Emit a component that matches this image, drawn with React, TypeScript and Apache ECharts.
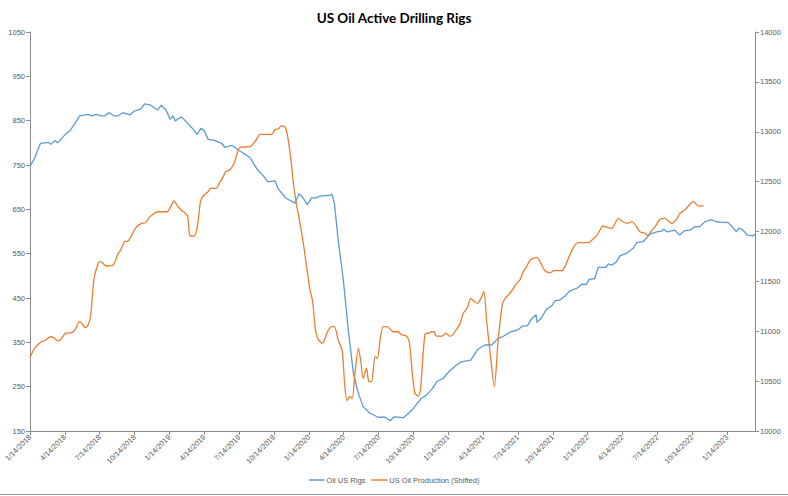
import React, { useEffect, useRef } from "react";
import * as echarts from "echarts";

const TITLE = "US Oil Active Drilling Rigs";
const SERIES_NAMES = ["Oil US Rigs", "US Oil Production (Shifted)"];

const rigDates = [
  "2018-01-14","2018-01-26","2018-02-11","2018-03-02","2018-03-08","2018-03-18","2018-03-26","2018-04-14","2018-04-27","2018-05-10",
  "2018-05-22","2018-06-14","2018-06-24","2018-07-05","2018-07-18","2018-07-28","2018-08-07","2018-08-21","2018-09-02","2018-09-14",
  "2018-10-01","2018-10-14","2018-10-30","2018-11-10","2018-11-26","2018-12-13","2018-12-23","2019-01-05","2019-01-16","2019-01-23",
  "2019-01-30","2019-02-05","2019-02-16","2019-03-01","2019-03-13","2019-03-26","2019-04-05","2019-04-14","2019-04-24","2019-05-12",
  "2019-05-29","2019-06-07","2019-06-26","2019-07-12","2019-08-12","2019-08-31","2019-09-16","2019-09-29","2019-10-17","2019-10-25",
  "2019-11-15","2019-12-08","2019-12-19","2019-12-30","2020-01-10","2020-01-21","2020-02-03","2020-02-13","2020-03-10","2020-03-13",
  "2020-03-20","2020-03-30","2020-04-13","2020-04-26","2020-05-09","2020-05-22","2020-06-04","2020-06-22","2020-07-13","2020-07-31",
  "2020-08-14","2020-08-24","2020-09-18","2020-10-10","2020-10-23","2020-11-05","2020-11-18","2020-12-01","2020-12-14","2020-12-31",
  "2021-01-18","2021-02-05","2021-02-18","2021-03-12","2021-04-01","2021-04-19","2021-05-06","2021-05-23","2021-06-05","2021-06-24",
  "2021-07-13","2021-07-26","2021-08-08","2021-08-20","2021-08-31","2021-09-03","2021-09-15","2021-09-28","2021-10-11","2021-10-20",
  "2021-10-31","2021-11-15","2021-11-28","2021-12-16","2021-12-29","2022-01-11","2022-01-18","2022-02-02","2022-02-11","2022-03-01",
  "2022-03-07","2022-03-16","2022-03-29","2022-04-07","2022-04-25","2022-05-12","2022-05-21","2022-06-07","2022-06-25","2022-07-12",
  "2022-07-25","2022-07-31","2022-08-09","2022-08-29","2022-09-11","2022-09-25","2022-10-08","2022-10-21","2022-11-03","2022-11-17",
  "2022-12-02","2022-12-17","2022-12-30","2023-01-17","2023-01-26","2023-02-08","2023-02-15","2023-02-25","2023-03-06","2023-03-21",
  "2023-03-26"
];
const rigCounts = [
  747,765,799,801,797,805,800,818,827,844,
  861,864,861,864,861,861,868,861,861,868,
  863,872,876,888,885,874,885,874,853,861,
  849,854,858,844,833,819,833,827,808,805,
  799,790,794,784,767,740,726,712,714,696,
  675,664,685,675,660,676,676,680,682,685,
  664,581,491,378,280,235,205,190,181,181,
  173,182,180,197,211,224,231,244,261,269,
  286,299,306,310,335,344,344,359,363,373,
  378,387,387,404,412,395,406,425,432,444,
  445,454,466,472,481,481,492,494,519,519,
  527,524,532,545,551,563,575,577,594,599,
  601,605,599,603,592,602,603,611,611,622,
  627,622,621,620,612,599,608,603,592,590,
  594
];

const prodDates = [
  "2018-01-14","2018-01-26","2018-02-13","2018-02-22","2018-03-07","2018-03-14","2018-03-26","2018-04-04","2018-04-15","2018-05-01",
  "2018-05-10","2018-05-22","2018-05-28","2018-06-06","2018-06-14","2018-06-21","2018-06-29","2018-07-10","2018-07-16","2018-08-01",
  "2018-08-16","2018-08-24","2018-08-29","2018-09-09","2018-09-18","2018-09-27","2018-10-06","2018-10-16","2018-11-01","2018-11-12",
  "2018-11-20","2018-11-29","2018-12-15","2019-01-08","2019-01-17","2019-01-26","2019-02-03","2019-02-16","2019-02-24","2019-03-01",
  "2019-03-07","2019-03-18","2019-03-26","2019-04-04","2019-04-11","2019-04-24","2019-04-30","2019-05-14","2019-05-25","2019-06-02",
  "2019-06-09","2019-06-20","2019-07-01","2019-07-16","2019-08-12","2019-08-28","2019-09-08","2019-10-08","2019-10-17","2019-10-25",
  "2019-11-03","2019-11-12","2019-11-18","2019-11-27","2019-12-05","2019-12-13","2019-12-19","2019-12-30","2020-01-08","2020-01-13",
  "2020-01-17","2020-01-24","2020-02-01","2020-02-08","2020-02-19","2020-03-02","2020-03-13","2020-03-20","2020-03-30","2020-04-10",
  "2020-04-17","2020-04-23","2020-04-30","2020-05-06","2020-05-13","2020-05-22","2020-05-28","2020-06-04","2020-06-13","2020-06-19",
  "2020-06-26","2020-07-05","2020-07-11","2020-07-18","2020-07-26","2020-08-06","2020-08-22","2020-09-04","2020-09-14","2020-09-25",
  "2020-10-03","2020-10-12","2020-10-18","2020-10-27","2020-11-02","2020-11-14","2020-11-23","2020-12-01","2020-12-07","2020-12-13",
  "2020-12-27","2021-01-08","2021-01-17","2021-01-23","2021-02-05","2021-02-14","2021-02-23","2021-03-03","2021-03-12","2021-03-19",
  "2021-03-29","2021-04-07","2021-04-16","2021-04-23","2021-05-02","2021-05-13","2021-05-23","2021-06-04","2021-06-15","2021-06-28",
  "2021-07-09","2021-07-19","2021-07-28","2021-08-06","2021-08-15","2021-08-23","2021-09-03","2021-09-13","2021-09-24","2021-10-07",
  "2021-10-17","2021-11-07","2021-11-15","2021-11-28","2021-12-11","2021-12-20","2022-01-16","2022-01-30","2022-02-05","2022-02-16",
  "2022-02-23","2022-03-05","2022-03-16","2022-04-03","2022-04-12","2022-04-25","2022-05-08","2022-05-16","2022-05-29","2022-06-12",
  "2022-06-19","2022-06-25","2022-07-08","2022-07-21","2022-08-03","2022-08-21","2022-09-03","2022-09-12","2022-09-25","2022-10-17",
  "2022-10-30","2022-11-13"
];
const prodValues = [
  10740,10829,10895,10905,10945,10939,10905,10919,10979,10986,
  11013,11096,11079,11036,11063,11163,11514,11681,11697,11654,
  11657,11697,11757,11822,11898,11905,11958,12032,12082,12088,
  12132,12165,12198,12198,12249,12306,12266,12208,12188,12155,
  11958,11955,12042,12299,12356,12399,12433,12433,12499,12543,
  12600,12617,12684,12844,12850,12917,12974,12974,13024,13028,
  13058,13051,12984,12750,12449,12249,12130,11882,11647,11514,
  11414,11296,11010,10919,10879,10995,11046,11046,10912,10805,
  10444,10304,10344,10328,10578,10829,10712,10528,10629,10494,
  10494,10745,10729,10912,11046,11046,10995,10995,10962,10955,
  10895,10544,10378,10351,10411,10972,10979,10995,10995,10952,
  10952,10979,10952,10955,11019,11073,11180,11236,11330,11306,
  11280,11320,11396,11113,10779,10444,10912,11280,11346,11404,
  11474,11514,11597,11647,11714,11731,11741,11681,11607,11587,
  11607,11607,11647,11764,11865,11888,11888,11932,11948,12015,
  12055,12042,12032,12132,12105,12082,12098,12072,11998,11982,
  11958,11988,12048,12122,12132,12082,12122,12182,12216,12299,
  12256,12256
];

// Axis ranges
const rigAxis = { min: 150, max: 1050, interval: 100 };
const prodAxis = { min: 10000, max: 14000, interval: 500 };
// x axis: months since 1/14/2018, quarterly ticks
const xAxisRange = { min: 0, max: 62.4, interval: 3 };

function toMonths(d: string): number {
  const [y, m, dd] = d.split("-").map(Number);
  return (y - 2018) * 12 + (m - 1) + (dd - 14) / 30.44;
}

function monthLabel(v: number): string {
  const k = Math.round(v);
  if (Math.abs(v - k) > 1e-6 || k % 3 !== 0) return "";
  const y = 2018 + Math.floor(k / 12);
  const mo = (k % 12) + 1;
  return `${mo}/14/${y}`;
}

const FONT = "'Liberation Sans', Arial, sans-serif";
const LABEL_COLOR = "#595959";
const AXIS_COLOR = "#8c8c8c";

export default function App() {
  const ref = useRef<HTMLDivElement>(null);
  useEffect(() => {
    if (!ref.current) return;
    const chart = echarts.init(ref.current, undefined, { renderer: "svg" });
    const axisLabelBase = { fontSize: 7.5, color: LABEL_COLOR, fontFamily: FONT };
    chart.setOption({
      animation: false,
      backgroundColor: "#ffffff",
      title: {
        text: TITLE,
        left: "center",
        top: 6,
        textStyle: { fontSize: 13.5, fontWeight: "bold", color: "#000000", fontFamily: "Lato, 'Liberation Sans', sans-serif" },
      },
      legend: {
        data: SERIES_NAMES,
        bottom: 7,
        left: "center",
        icon: "rect",
        itemWidth: 16,
        itemHeight: 1.5,
        itemGap: 6,
        textStyle: { fontSize: 7.5, color: LABEL_COLOR, fontFamily: FONT, padding: [0, 0, 0, -3] },
      },
      grid: {
        left: 30,
        right: 33,
        top: 32,
        bottom: 65,
        containLabel: false,
        outerBoundsMode: "none",
      },
      xAxis: {
        type: "value",
        min: xAxisRange.min,
        max: xAxisRange.max,
        interval: xAxisRange.interval,
        splitLine: { show: false },
        axisLine: { show: true, lineStyle: { color: AXIS_COLOR, width: 1 } },
        axisTick: { show: true, length: 4, lineStyle: { color: AXIS_COLOR } },
        axisLabel: {
          ...axisLabelBase,
          rotate: 45,
          margin: 5,
          showMaxLabel: false,
          formatter: (v: number) => monthLabel(v),
        },
      },
      yAxis: [
        {
          type: "value",
          min: rigAxis.min,
          max: rigAxis.max,
          interval: rigAxis.interval,
          position: "left",
          splitLine: { show: false },
          axisLine: { show: true, lineStyle: { color: AXIS_COLOR, width: 1 } },
          axisTick: { show: true, length: 4, lineStyle: { color: AXIS_COLOR } },
          axisLabel: { ...axisLabelBase, margin: 5, formatter: (v: number) => String(v) },
        },
        {
          type: "value",
          min: prodAxis.min,
          max: prodAxis.max,
          interval: prodAxis.interval,
          position: "right",
          splitLine: { show: false },
          axisLine: { show: true, lineStyle: { color: AXIS_COLOR, width: 1 } },
          axisTick: { show: true, length: 4, lineStyle: { color: AXIS_COLOR } },
          axisLabel: { ...axisLabelBase, margin: 5, formatter: (v: number) => String(v) },
        },
      ],
      series: [
        {
          name: SERIES_NAMES[0],
          type: "line",
          yAxisIndex: 0,
          showSymbol: false,
          smooth: false,
          color: "#5B9BD5",
          lineStyle: { color: "#5B9BD5", width: 1.3 },
          data: rigDates.map((d, i) => [toMonths(d), rigCounts[i]]),
        },
        {
          name: SERIES_NAMES[1],
          type: "line",
          yAxisIndex: 1,
          showSymbol: false,
          smooth: 0.25,
          color: "#ED7D31",
          lineStyle: { color: "#ED7D31", width: 1.3 },
          data: prodDates.map((d, i) => [toMonths(d), prodValues[i]]),
        },
      ],
      graphic: [
        {
          type: "line",
          shape: { x1: 0, y1: 494.5, x2: 788, y2: 494.5 },
          style: { stroke: "#9a9a9a", lineWidth: 1 },
          silent: true,
        },
      ],
    });
    return () => chart.dispose();
  }, []);
  return (
    <div
      ref={ref}
      style={{ position: "fixed", left: 0, top: 0, width: 788, height: 496, background: "#fff" }}
    />
  );
}
